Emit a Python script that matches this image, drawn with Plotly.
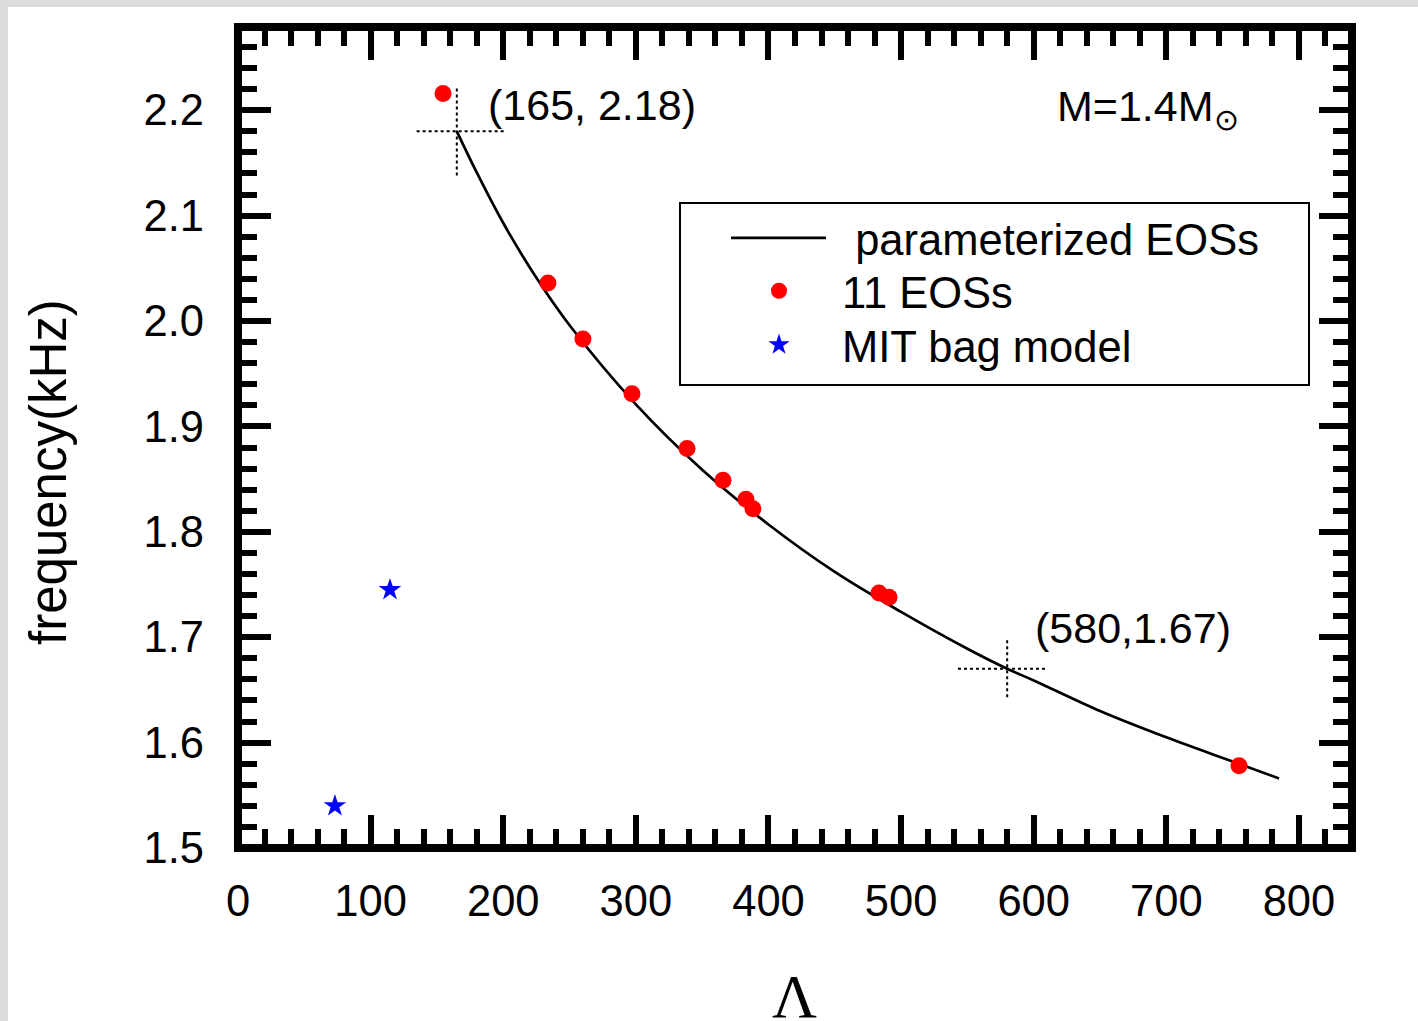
import plotly.graph_objects as go

# --- data -------------------------------------------------------------
# tidal deformability (Lambda) and f-mode frequency (kHz) of the 11 EOSs
eos_lambda = [154.6, 233.7, 260.1, 297.1, 338.6, 365.7, 383.0, 388.3, 483.3, 490.9, 754.8]
eos_freq = [2.216, 2.036, 1.983, 1.931, 1.879, 1.849, 1.831, 1.822, 1.742, 1.738, 1.578]

# MIT bag model stars
mit_lambda = [73.1, 114.6]
mit_freq = [1.540, 1.745]

# parameterized EOS relation
param_lambda = [165, 180, 200, 225, 250, 300, 350, 400, 450, 500, 550, 580, 600, 650, 700, 750, 785]
param_freq = [2.180, 2.141, 2.093, 2.041, 1.996, 1.921, 1.859, 1.807, 1.762, 1.724,
              1.689, 1.670, 1.659, 1.630, 1.605, 1.582, 1.566]

# end points of the parameterized range and their dotted cross-hairs
mark_lambda = [165, 580]
mark_freq = [2.18, 1.67]
mark_labels = ["(165, 2.18)", "(580,1.67)"]
cross_h = [(134.7, 201.3), (542.9, 610.0)]   # horizontal extent (Lambda)
cross_v = [(2.138, 2.222), (1.643, 1.698)]   # vertical extent (kHz)

x_range = [0, 840]
y_range = [1.5, 2.279]

# --- geometry ---------------------------------------------------------
W, H = 1418, 1021
L, R, T, B = 238, 1352, 27, 848          # plot-area edges in px
PW, PH = R - L, B - T


def px(xp):
    return (xp - L) / PW


def py(yp):
    return (B - yp) / PH


SANS = "Liberation Sans, Arial, sans-serif"
NB = "\u00a0"

fig = go.Figure()

fig.add_trace(go.Scatter(
    x=param_lambda, y=param_freq, mode="lines", line_shape="spline",
    line=dict(color="black", width=2.7), name=NB * 2 + "parameterized EOSs",
    legend="legend"))

fig.add_trace(go.Scatter(
    x=eos_lambda, y=eos_freq, mode="markers",
    marker=dict(color="#ff0000", size=17, line=dict(width=0)), name="11 EOSs",
    legend="legend2"))

fig.add_trace(go.Scatter(
    x=mit_lambda, y=mit_freq, mode="markers",
    marker=dict(color="#0000ff", symbol="star", size=17, line=dict(width=0)),
    name="MIT bag model", legend="legend3"))

shapes = []
# page border (grey strip on the top and left)
shapes.append(dict(type="rect", xref="paper", yref="paper", layer="below",
                   x0=px(0), x1=px(W), y0=py(0), y1=py(7),
                   fillcolor="#dcdcdc", line=dict(width=0)))
shapes.append(dict(type="rect", xref="paper", yref="paper", layer="below",
                   x0=px(0), x1=px(8), y0=py(H), y1=py(0),
                   fillcolor="#dcdcdc", line=dict(width=0)))
# thick frame
shapes.append(dict(type="rect", xref="paper", yref="paper", layer="above",
                   x0=0, x1=1, y0=0, y1=1, line=dict(color="black", width=8)))
# legend box
shapes.append(dict(type="rect", xref="paper", yref="paper", layer="above",
                   x0=px(680), x1=px(1309), y0=py(385), y1=py(203),
                   line=dict(color="black", width=2), fillcolor="rgba(0,0,0,0)"))
# dotted cross-hairs
for (mx, my), (h0, h1), (v0, v1) in zip(zip(mark_lambda, mark_freq), cross_h, cross_v):
    shapes.append(dict(type="line", xref="x", yref="y", x0=h0, x1=h1, y0=my, y1=my,
                       line=dict(color="black", width=2, dash="dot")))
    shapes.append(dict(type="line", xref="x", yref="y", x0=mx, x1=mx, y0=v0, y1=v1,
                       line=dict(color="black", width=2, dash="dot")))

annotations = []
label_pos = [(486, 105), (1033, 628)]
for text, (lx, ly) in zip(mark_labels, label_pos):
    annotations.append(dict(text=text, xref="paper", yref="paper", x=px(lx), y=py(ly),
                            xanchor="left", yanchor="middle", showarrow=False,
                            font=dict(family=SANS, size=43, color="black")))
annotations.append(dict(text="M=1.4M<sub>⊙</sub>", xref="paper", yref="paper",
                        x=px(1055), y=py(109), xanchor="left", yanchor="middle",
                        showarrow=False, font=dict(family=SANS, size=43, color="black")))
annotations.append(dict(text="frequency(kHz)", xref="paper", yref="paper",
                        x=px(49), y=py(472), xanchor="center", yanchor="middle",
                        textangle=-90, showarrow=False,
                        font=dict(family=SANS, size=51, color="black")))
annotations.append(dict(text="Λ", xref="paper", yref="paper",
                        x=px(794), y=py(960), xanchor="center", yanchor="top",
                        showarrow=False,
                        font=dict(family="Liberation Serif, Times New Roman, serif",
                                  size=62, color="black")))

axis_common = dict(
    showline=False, showgrid=False, zeroline=False,
    ticks="inside", mirror="ticks", ticklen=33, tickwidth=6, tickcolor="black",
    tickfont=dict(family=SANS, size=43.5, color="black"),
    fixedrange=True,
)

legend_common = dict(xanchor="left", yanchor="middle", bgcolor="rgba(0,0,0,0)",
                     borderwidth=0,
                     font=dict(family=SANS, size=43.5, color="black"))

fig.update_layout(
    width=W, height=H,
    margin=dict(l=L, r=W - R, t=T, b=H - B, autoexpand=False),
    paper_bgcolor="white", plot_bgcolor="white",
    showlegend=True,
    legend=dict(x=px(726), y=py(238), itemwidth=95, **legend_common),
    legend2=dict(x=px(716), y=py(291), itemwidth=116, **legend_common),
    legend3=dict(x=px(716), y=py(345), itemwidth=116, **legend_common),
    shapes=shapes, annotations=annotations,
    xaxis=dict(range=x_range, tick0=0, dtick=100, ticklabelstandoff=23,
               minor=dict(ticks="inside", dtick=20, ticklen=19, tickwidth=6,
                          tickcolor="black"),
               **axis_common),
    yaxis=dict(range=y_range, tick0=1.5, dtick=0.1, tickformat=".1f",
               ticklabelstandoff=33,
               minor=dict(ticks="inside", dtick=0.02, ticklen=19, tickwidth=6,
                          tickcolor="black"),
               **axis_common),
)

fig.write_html("out.html")
